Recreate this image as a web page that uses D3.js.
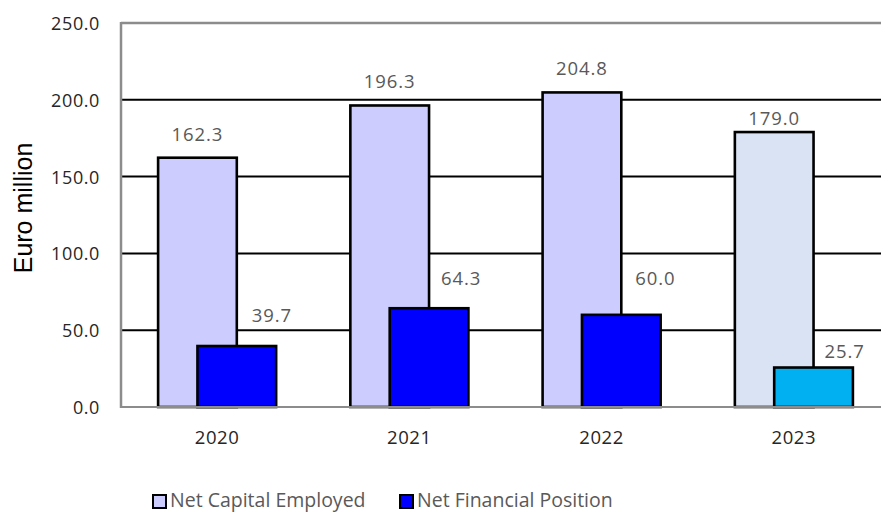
<!DOCTYPE html>
<html>
<head>
<meta charset="utf-8">
<script src="https://cdn.jsdelivr.net/npm/d3@7"></script>
<style>
  html, body { margin: 0; padding: 0; background: #fff; }
  svg { display: block; }
</style>
</head>
<body>
<svg id="chart" width="881" height="514"></svg>
<script>
// ---- data ----
const years = ["2020", "2021", "2022", "2023"];
const netCapitalEmployed = [162.3, 196.3, 204.8, 179.0];
const netFinancialPosition = [39.7, 64.3, 60.0, 25.7];
const seriesNames = ["Net Capital Employed", "Net Financial Position"];
const yTicks = [0, 50, 100, 150, 200, 250];
const yLabel = "Euro million";

// ---- layout / style ----
const W = 881, H = 514;
const plot = { left: 121, right: 890, top: 23, bottom: 407 };
const fillCapital = ["#ccccff", "#ccccff", "#ccccff", "#dae3f3"];
const fillFinancial = ["#0000ff", "#0000ff", "#0000ff", "#00b0f0"];
// manual label nudges (as in the source chart)
const capLabelRise = [17, 17, 17, 7];
const finLabelDx = [35, 32, 34, 31];
const finLabelRise = [24, 23, 30, 10];

const svg = d3.select("#chart");

const x0 = d3.scaleBand().domain(years).range([plot.left, plot.right])
  .paddingInner(0.386).paddingOuter(0.193);
const bw = x0.bandwidth();
const barW = bw * 2 / 3;
const y = d3.scaleLinear().domain([0, 250]).range([plot.bottom, plot.top]);

// gridlines (black) at inner ticks
svg.append("g").selectAll("line").data(yTicks.filter(t => t > 0 && t < 250)).join("line")
  .attr("x1", plot.left).attr("x2", W + 10)
  .attr("y1", d => y(d)).attr("y2", d => y(d))
  .attr("stroke", "#000").attr("stroke-width", 2);

// frame top line (grey)
svg.append("line").attr("x1", plot.left).attr("x2", W + 10)
  .attr("y1", y(250)).attr("y2", y(250))
  .attr("stroke", "#8c8c8c").attr("stroke-width", 2.5);

// bars
const g = svg.append("g");
g.selectAll("rect.cap").data(years).join("rect").attr("class", "cap")
  .attr("x", d => x0(d))
  .attr("y", (d, i) => y(netCapitalEmployed[i]))
  .attr("width", barW)
  .attr("height", (d, i) => y(0) - y(netCapitalEmployed[i]))
  .attr("fill", (d, i) => fillCapital[i])
  .attr("stroke", "#000").attr("stroke-width", 2.6);
g.selectAll("rect.fin").data(years).join("rect").attr("class", "fin")
  .attr("x", d => x0(d) + bw / 3)
  .attr("y", (d, i) => y(netFinancialPosition[i]))
  .attr("width", barW)
  .attr("height", (d, i) => y(0) - y(netFinancialPosition[i]))
  .attr("fill", (d, i) => fillFinancial[i])
  .attr("stroke", "#000").attr("stroke-width", 2.6);

// axes lines (grey)
svg.append("line").attr("x1", plot.left).attr("x2", W + 10)
  .attr("y1", y(0)).attr("y2", y(0))
  .attr("stroke", "#8c8c8c").attr("stroke-width", 2);
svg.append("line").attr("x1", plot.left).attr("x2", plot.left)
  .attr("y1", y(250) - 1).attr("y2", y(0) + 1)
  .attr("stroke", "#8c8c8c").attr("stroke-width", 2.5);

const font = "'Open Sans', 'Noto Sans', sans-serif";

// y tick labels
const yAxis = d3.axisLeft(y).tickValues(yTicks).tickFormat(d3.format(".1f")).tickSize(0).tickPadding(0);
const ya = svg.append("g").attr("transform", `translate(100,0)`).call(yAxis);
ya.select(".domain").remove();
ya.selectAll("text").attr("font-family", font).attr("font-size", 18)
  .attr("letter-spacing", 0.6).attr("fill", "#262626").attr("dy", "0.36em");

// x tick labels
const xAxis = d3.axisBottom(x0).tickSize(0).tickPadding(0);
const xa = svg.append("g").attr("transform", `translate(0,431)`).call(xAxis);
xa.select(".domain").remove();
xa.selectAll("text").attr("font-family", font).attr("font-size", 18.5)
  .attr("letter-spacing", 0.6).attr("fill", "#262626").attr("dy", "0.71em");

// value labels
svg.append("g").selectAll("text").data(years).join("text")
  .attr("x", d => x0(d) + barW / 2)
  .attr("y", (d, i) => y(netCapitalEmployed[i]) - capLabelRise[i])
  .attr("text-anchor", "middle")
  .attr("font-family", font).attr("font-size", 18.5).attr("letter-spacing", 0.9)
  .attr("fill", "#595959")
  .text((d, i) => netCapitalEmployed[i].toFixed(1));
svg.append("g").selectAll("text").data(years).join("text")
  .attr("x", (d, i) => x0(d) + bw / 3 + barW / 2 + finLabelDx[i])
  .attr("y", (d, i) => y(netFinancialPosition[i]) - finLabelRise[i])
  .attr("text-anchor", "middle")
  .attr("font-family", font).attr("font-size", 18.5).attr("letter-spacing", 0.9)
  .attr("fill", "#595959")
  .text((d, i) => netFinancialPosition[i].toFixed(1));

// y label
svg.append("text")
  .attr("transform", `translate(32,208) rotate(-90)`)
  .attr("text-anchor", "middle")
  .attr("font-family", "'Liberation Sans', Arial, sans-serif").attr("font-size", 25)
  .attr("fill", "#000")
  .text(yLabel);

// legend
const legendX = [153, 400];
const legendFills = ["#ccccff", "#0000ff"];
const lg = svg.append("g");
seriesNames.forEach((name, i) => {
  lg.append("rect").attr("x", legendX[i]).attr("y", 495).attr("width", 13).attr("height", 13)
    .attr("fill", legendFills[i]).attr("stroke", "#000").attr("stroke-width", 2);
  lg.append("text").attr("x", legendX[i] + 17).attr("y", 507)
    .attr("font-family", font).attr("font-size", 19.5).attr("fill", "#595959")
    .text(name);
});
</script>
</body>
</html>
